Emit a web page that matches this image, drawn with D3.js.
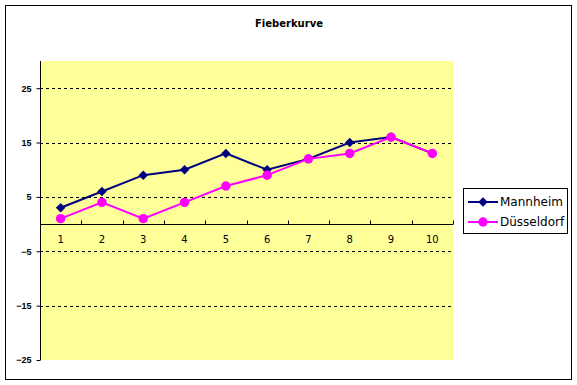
<!DOCTYPE html>
<html>
<head>
<meta charset="utf-8">
<script src="https://cdn.jsdelivr.net/npm/d3@7"></script>
<style>
  body { margin: 0; background: #fff; }
  svg { font-family: Tahoma, "DejaVu Sans", sans-serif; }
</style>
</head>
<body>
<svg id="chart" width="577" height="385"></svg>
<script>
// data
var days = ["1", "2", "3", "4", "5", "6", "7", "8", "9", "10"];
var mannheim = [3, 6, 9, 10, 13, 10, 12, 15, 16, 13];
var duesseldorf = [1, 4, 1, 4, 7, 9, 12, 13, 16, 13];
var yTicks = [-25, -15, -5, 5, 15, 25];
var seriesNames = ["Mannheim", "Düsseldorf"];
var seriesColors = ["#000080", "#ff00ff"];

var plot = {left: 40, top: 61, right: 453, bottom: 360};

var svg = d3.select("#chart");

// outer frame
svg.append("rect")
    .attr("x", 5.5).attr("y", 5.5)
    .attr("width", 566).attr("height", 374)
    .attr("fill", "#fff").attr("stroke", "#000");

// title
svg.append("text")
    .attr("x", 289).attr("y", 27)
    .attr("text-anchor", "middle")
    .style("font-size", "10px").style("font-weight", "bold")
    .text("Fieberkurve");

var x = d3.scaleBand().domain(days).range([plot.left, plot.right]);
var y = d3.scaleLinear().domain([-25, 30]).range([plot.bottom, plot.top]);

// plot background
svg.append("rect")
    .attr("x", plot.left).attr("y", plot.top)
    .attr("width", plot.right - plot.left).attr("height", plot.bottom - plot.top)
    .attr("fill", "#ffff99");

// dashed grid lines
svg.selectAll(".grid")
    .data(yTicks.filter(function(d) { return d > -25; }))
    .enter().append("line")
    .attr("x1", plot.left).attr("x2", plot.right)
    .attr("y1", function(d) { return Math.round(y(d)) + 0.5; })
    .attr("y2", function(d) { return Math.round(y(d)) + 0.5; })
    .attr("stroke", "#000")
    .attr("stroke-dasharray", "3,3");

// y axis
var yAxis = svg.append("g")
    .attr("transform", "translate(" + (plot.left + 0.5) + ",0)")
    .call(d3.axisLeft(y).tickValues(yTicks).tickSize(4).tickSizeOuter(0).tickPadding(5));
yAxis.select(".domain").attr("d", "M0," + plot.top + "V" + plot.bottom);
yAxis.selectAll("text").style("font-size", "9px").style("font-weight", "bold");

// x axis at zero
var zeroY = Math.round(y(0)) + 0.5;
var xAxis = svg.append("g")
    .attr("transform", "translate(0," + zeroY + ")");
xAxis.append("line")
    .attr("x1", plot.left).attr("x2", plot.right)
    .attr("stroke", "#000");
xAxis.selectAll(".tk")
    .data(days.slice(1).concat(["end"]))
    .enter().append("line")
    .attr("x1", function(d, i) { return Math.round(plot.left + x.step() * (i + 1)) + 0.5; })
    .attr("x2", function(d, i) { return Math.round(plot.left + x.step() * (i + 1)) + 0.5; })
    .attr("y1", 0).attr("y2", -4)
    .attr("stroke", "#000");
xAxis.selectAll(".lbl")
    .data(days)
    .enter().append("text")
    .attr("x", function(d) { return x(d) + x.bandwidth() / 2; })
    .attr("y", 18)
    .attr("text-anchor", "middle")
    .style("font-size", "10px")
    .text(function(d) { return d; });

var line = d3.line()
    .x(function(d, i) { return x(days[i]) + x.bandwidth() / 2; })
    .y(function(d) { return y(d); });

// square turned 45 degrees gives the Excel style diamond
var diamond = d3.symbol().type(d3.symbolSquare).size(45);
var circle = d3.symbol().type(d3.symbolCircle).size(70);
var rot = [45, 0];

function drawSeries(values, color, sym, r) {
  svg.append("path")
      .datum(values)
      .attr("fill", "none")
      .attr("stroke", color)
      .attr("stroke-width", 2)
      .attr("d", line);
  svg.selectAll(null)
      .data(values)
      .enter().append("path")
      .attr("d", sym)
      .attr("fill", color)
      .attr("transform", function(d, i) {
        return "translate(" + (x(days[i]) + x.bandwidth() / 2) + "," + y(d) + ") rotate(" + r + ")";
      });
}

drawSeries(mannheim, seriesColors[0], diamond, rot[0]);
drawSeries(duesseldorf, seriesColors[1], circle, rot[1]);

// legend
var legend = svg.append("g").attr("transform", "translate(463,188)");
legend.append("rect")
    .attr("x", 0.5).attr("y", 0.5)
    .attr("width", 104).attr("height", 45)
    .attr("fill", "#fff").attr("stroke", "#000");
var syms = [diamond, circle];
seriesNames.forEach(function(name, i) {
  var ly = 14 + i * 20;
  legend.append("line")
      .attr("x1", 5).attr("x2", 35)
      .attr("y1", ly).attr("y2", ly)
      .attr("stroke", seriesColors[i]).attr("stroke-width", 2);
  legend.append("path")
      .attr("d", syms[i])
      .attr("fill", seriesColors[i])
      .attr("transform", "translate(20," + ly + ") rotate(" + rot[i] + ")");
  legend.append("text")
      .attr("x", 37).attr("y", ly + 4)
      .style("font-size", "12px")
      .text(name);
});
</script>
</body>
</html>
